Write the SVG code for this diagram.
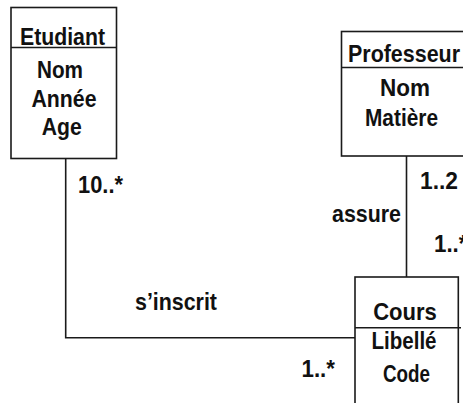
<svg xmlns="http://www.w3.org/2000/svg" width="463" height="403" viewBox="0 0 463 403">
<style>
.box{fill:#fff;stroke:#1a1a1a;stroke-width:1.6}
.ln{fill:none;stroke:#1a1a1a;stroke-width:1.6}
text{font-family:"Liberation Sans",Arial,sans-serif;font-size:24.5px;font-weight:bold;fill:#111}
.c{text-anchor:middle}
</style>
<rect width="463" height="403" fill="#fff"/>
<g id="connectors">
<path class="ln" d="M65.7 158.5 V337.7 H355"/>
<path class="ln" d="M406.5 156 V277"/>
<text x="78" y="192.5" textLength="45" lengthAdjust="spacingAndGlyphs">10..*</text>
<text x="135" y="310" textLength="82" lengthAdjust="spacingAndGlyphs">s’inscrit</text>
<text x="301.5" y="377" textLength="33.5" lengthAdjust="spacingAndGlyphs">1..*</text>
<text x="332" y="222" textLength="69" lengthAdjust="spacingAndGlyphs">assure</text>
<text x="420" y="189" textLength="38" lengthAdjust="spacingAndGlyphs">1..2</text>
<text x="434" y="252" textLength="33.5" lengthAdjust="spacingAndGlyphs">1..*</text>
</g>
<g id="etudiant">
<rect class="box" x="11" y="7.5" width="105.5" height="151"/>
<line class="ln" x1="11" y1="47.5" x2="116.5" y2="47.5"/>
<text class="c" x="62.5" y="44.5" textLength="85" lengthAdjust="spacingAndGlyphs">Etudiant</text>
<text class="c" x="60" y="77.5" textLength="46" lengthAdjust="spacingAndGlyphs">Nom</text>
<text class="c" x="64" y="106.5" textLength="65" lengthAdjust="spacingAndGlyphs">Année</text>
<text class="c" x="61.7" y="135" textLength="40" lengthAdjust="spacingAndGlyphs">Age</text>
</g>
<g id="professeur">
<rect class="box" x="341.5" y="31.5" width="130" height="124.5"/>
<line class="ln" x1="341.5" y1="67.5" x2="471.5" y2="67.5"/>
<text class="c" x="404" y="61.5" textLength="112" lengthAdjust="spacingAndGlyphs">Professeur</text>
<text class="c" x="405" y="95.5" textLength="50" lengthAdjust="spacingAndGlyphs">Nom</text>
<text class="c" x="401.5" y="125.5" textLength="73" lengthAdjust="spacingAndGlyphs">Matière</text>
</g>
<g id="cours">
<rect class="box" x="355" y="277" width="103.3" height="140"/>
<line class="ln" x1="355" y1="327.7" x2="461" y2="327.7"/>
<text class="c" x="405" y="320" textLength="63.7" lengthAdjust="spacingAndGlyphs">Cours</text>
<text class="c" x="404" y="349" textLength="65" lengthAdjust="spacingAndGlyphs">Libellé</text>
<text class="c" x="406.5" y="381.5" textLength="47" lengthAdjust="spacingAndGlyphs">Code</text>
</g>
</svg>
